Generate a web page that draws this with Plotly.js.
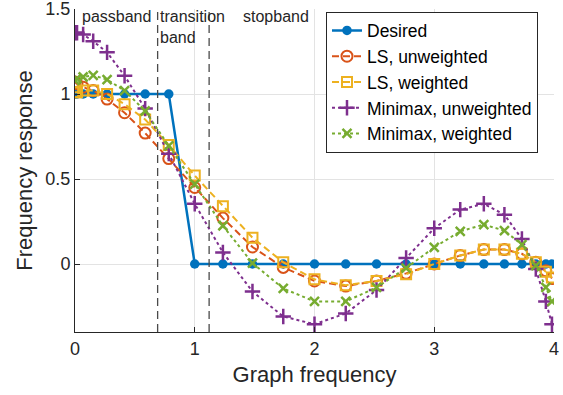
<!DOCTYPE html>
<html>
<head>
<meta charset="utf-8">
<script src="https://cdn.plot.ly/plotly-3.0.1.min.js"></script>
<style>html,body{margin:0;padding:0;background:#fff;}#chart{width:563px;height:395px;}</style>
</head>
<body>
<div id="chart"></div>
<script>
// Graph frequencies (eigenvalues)
var freq = [0, 0.017, 0.068, 0.152, 0.268, 0.414, 0.586, 0.783, 1.0, 1.235, 1.482, 1.739,
            2.0, 2.261, 2.518, 2.765, 3.0, 3.217, 3.414, 3.586, 3.732, 3.848, 3.932, 3.983];
var desired = [1, 1, 1, 1, 1, 1, 1, 1, 0, 0, 0, 0, 0, 0, 0, 0, 0, 0, 0, 0, 0, 0, 0, 0];
var lsUnweighted = [1.07, 1.06, 1.04, 1.02, 0.97, 0.89, 0.77, 0.62, 0.45, 0.27, 0.10, -0.02,
                    -0.10, -0.13, -0.10, -0.055, 0.0, 0.05, 0.085, 0.085, 0.06, 0.01, -0.04, -0.085];
var lsWeighted = [1.01, 1.01, 1.02, 1.02, 1.0, 0.94, 0.85, 0.70, 0.52, 0.34, 0.155, 0.01,
                  -0.09, -0.125, -0.10, -0.06, 0.0, 0.05, 0.085, 0.085, 0.06, 0.01, -0.045, -0.08];
var minimaxUnweighted = [1.36, 1.36, 1.35, 1.31, 1.245, 1.107, 0.914, 0.649, 0.354, 0.068, -0.162, -0.309,
                         -0.354, -0.291, -0.153, 0.035, 0.21, 0.32, 0.354, 0.29, 0.147, -0.03, -0.22, -0.354];
var minimaxWeighted = [1.08, 1.09, 1.10, 1.11, 1.085, 1.02, 0.90, 0.695, 0.47, 0.225, 0.005, -0.144,
                       -0.22, -0.22, -0.138, -0.024, 0.098, 0.192, 0.232, 0.196, 0.114, -0.01, -0.138, -0.22];
var seriesNames = ['Desired', 'LS, unweighted', 'LS, weighted', 'Minimax, unweighted', 'Minimax, weighted'];
var bandEdges = [0.69, 1.12];
var bandLabels = ['passband', 'transition<br>band', 'stopband'];
var bandLabelX = [0.06, 0.71, 1.40];
var xTicks = [0, 1, 2, 3, 4];
var yTicks = [0, 0.5, 1, 1.5];

var C = {blue:'#0072BD', orange:'#D95319', yellow:'#EDB120', purple:'#7E2F8E', green:'#77AC30'};
var FONT = '"Liberation Sans", Arial, Helvetica, sans-serif';
var ink = '#262626';

var traces = [
  {x: freq, y: desired, name: seriesNames[0], mode: 'lines+markers',
   line: {color: C.blue, width: 2.5},
   marker: {symbol: 'circle', size: 9.5, color: C.blue}},
  {x: freq, y: lsUnweighted, name: seriesNames[1], mode: 'lines+markers',
   line: {color: C.orange, width: 2, dash: '7px,4px'},
   marker: {symbol: 'circle-open', size: 11, color: C.orange, line: {width: 2, color: C.orange}}},
  {x: freq, y: lsWeighted, name: seriesNames[2], mode: 'lines+markers',
   line: {color: C.yellow, width: 2, dash: '7px,4px'},
   marker: {symbol: 'square-open', size: 10, color: C.yellow, line: {width: 2, color: C.yellow}}},
  {x: freq, y: minimaxUnweighted, name: seriesNames[3], mode: 'lines+markers',
   line: {color: C.purple, width: 2, dash: 'dot'},
   marker: {symbol: 'cross-thin', size: 11, color: C.purple, line: {width: 2.5, color: C.purple}}},
  {x: freq, y: minimaxWeighted, name: seriesNames[4], mode: 'lines+markers',
   line: {color: C.green, width: 2, dash: 'dot'},
   marker: {symbol: 'x-thin', size: 9, color: C.green, line: {width: 2.5, color: C.green}}}
];

var shapes = bandEdges.map(function (e) {
  return {type: 'line', xref: 'x', yref: 'paper', x0: e, x1: e, y0: 0, y1: 1,
          line: {color: '#4a4a4a', width: 1.3, dash: '8px,5px'}};
});

var annotations = bandLabels.map(function (t, i) {
  return {text: t, x: bandLabelX[i], y: 1.5, xref: 'x', yref: 'y',
          xanchor: 'left', yanchor: 'top', showarrow: false, align: 'left',
          font: {family: FONT, size: 16, color: ink}, xshift: -2, yshift: 3};
});

var layout = {
  width: 563, height: 395,
  margin: {l: 74.5, r: 8.5, t: 9.3, b: 63.3},
  paper_bgcolor: '#ffffff', plot_bgcolor: '#ffffff',
  font: {family: FONT, color: ink},
  showlegend: true,
  legend: {x: 0.524, y: 0.992, xanchor: 'left', yanchor: 'top',
           bgcolor: '#ffffff', bordercolor: ink, borderwidth: 1,
           font: {family: FONT, size: 17.5, color: '#000'}, tracegroupgap: 0},
  xaxis: {range: [0, 4], tickvals: xTicks, ticktext: xTicks.map(String),
          showgrid: true, gridcolor: '#e3e3e3', gridwidth: 1, zeroline: false,
          showline: true, linecolor: ink, linewidth: 1, ticks: 'inside', ticklen: 5, tickcolor: ink,
          ticklabeloverflow: 'allow',
          tickfont: {family: FONT, size: 18, color: ink},
          title: {text: 'Graph frequency', font: {family: FONT, size: 22, color: ink}, standoff: 9}},
  yaxis: {range: [-0.4, 1.5], tickvals: yTicks, ticktext: yTicks.map(String),
          showgrid: true, gridcolor: '#e3e3e3', gridwidth: 1, zeroline: false,
          showline: true, linecolor: ink, linewidth: 1, ticks: 'inside', ticklen: 5, tickcolor: ink,
          ticklabeloverflow: 'allow',
          tickfont: {family: FONT, size: 18, color: ink},
          title: {text: 'Frequency response', font: {family: FONT, size: 22, color: ink}, standoff: 6}},
  shapes: shapes,
  annotations: annotations
};

Plotly.newPlot('chart', traces, layout, {staticPlot: true, displayModeBar: false});
</script>
</body>
</html>
